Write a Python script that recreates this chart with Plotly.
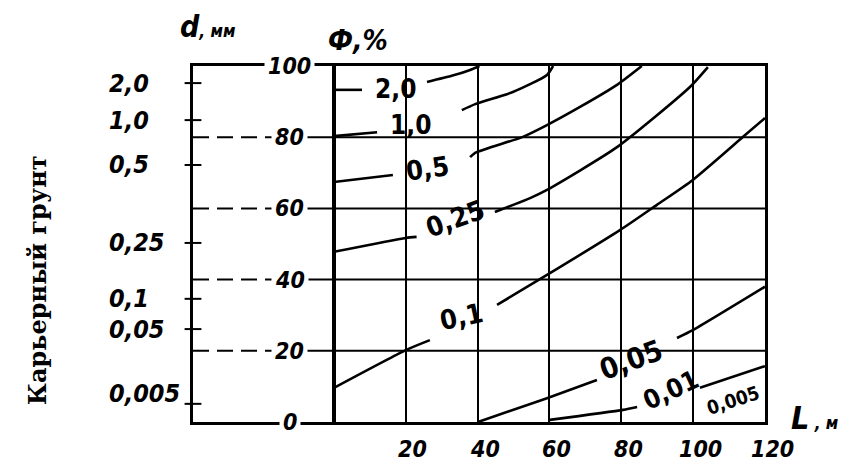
import plotly.graph_objects as go

# ---------------- data ----------------
L_TICKS = [20, 40, 60, 80, 100, 120]
L_TICK_TEXT = ["20", "40", "60", "80", "100", "120"]
PHI_TICKS = [0, 20, 40, 60, 80, 100]
PHI_TICK_TEXT = ["0", "20", "40", "60", "80", "100"]

D_LABELS = ["2,0", "1,0", "0,5", "0,25", "0,1", "0,05", "0,005"]
D_POS = [95.2, 84.8, 72.2, 50.3, 34.6, 26.1, 5.1]

c20_L = [0, 7.8, None, 25.9, 33.0, 37.9, 40.5]
c20_F = [93.3, 93.3, None, 95.5, 97.3, 98.9, 100]
c10_L = [0, 12.0, None, 35.6, 39.3, 49.8, 59.3, 61.0]
c10_F = [80.3, 81.4, None, 87.6, 89.3, 92.7, 97.5, 100]
c05_L = [0, 16.4, None, 37.9, 39.3, 52.6, 59.3, 68.5, 78.8, 85.7]
c05_F = [67.4, 69.4, None, 74.4, 75.6, 80.1, 83.4, 88.5, 94.7, 100]
c025_L = [0, 20, 23.0, None, 44.8, 54.6, 59.3, 78.8, 99.1, 104.1]
c025_F = [47.8, 51.7, 52.0, None, 59.0, 62.9, 65.2, 77.2, 94.1, 99.7]
c01_L = [0, 20, 26.7, None, 45.4, 59.3, 79.6, 89.9, 99.9, 113.9, 120]
c01_F = [9.6, 20.2, 23.0, None, 32.9, 41.3, 53.9, 61.0, 68.0, 80.1, 85.4]
c005_L = [40.1, 59.3, 73.2, None, 95.5, 99.9, 120]
c005_F = [0, 6.7, 11.8, None, 23.6, 25.8, 38.0]
c001_L = [60.1, 80.5, 84.4, None, 101.9, 120]
c001_F = [0.6, 3.4, 4.2, None, 9.6, 15.7]

CURVE_LABELS = ["2,0", "1,0", "0,5", "0,25", "0,1", "0,05", "0,01", "0,005"]
CURVE_LABEL_L = [17.0, 21.4, 25.9, 33.7, 35.6, 82.7, 93.8, 111.1]
CURVE_LABEL_F = [93.5, 83.4, 71.3, 57.3, 29.5, 17.4, 9.0, 6.2]

# ---------------- style ----------------
L_MIN = -39.25          # left edge of the auxiliary d-scale box
PHI_LABEL_L = -12.3     # where the Ф tick labels sit
LABEL_ANGLES = [0, 0, -8, -20, -12, -20, -25, -18]
LABEL_SIZES = [26, 26, 27, 27, 27, 29, 26, 19]

HAND = "DejaVu Sans Condensed, DejaVu Sans, sans-serif"
BI = dict(family=HAND, color="black", weight="bold", style="italic")
B = dict(family=HAND, color="black", weight="bold")

fig = go.Figure()

# horizontal grid: dashed inside the d box, solid in the main field
dash_x, dash_y, sol_x, sol_y = [], [], [], []
for v in PHI_TICKS[1:-1]:
    dash_x += [L_MIN, PHI_LABEL_L, None]
    dash_y += [v, v, None]
    sol_x += [PHI_LABEL_L, 120, None]
    sol_y += [v, v, None]
fig.add_trace(go.Scatter(x=dash_x, y=dash_y, mode="lines",
                         line=dict(color="black", width=2, dash="16px,8px"),
                         hoverinfo="skip"))
fig.add_trace(go.Scatter(x=sol_x, y=sol_y, mode="lines",
                         line=dict(color="black", width=2), hoverinfo="skip"))

# curves
for Ls, Fs in [(c20_L, c20_F), (c10_L, c10_F), (c05_L, c05_F), (c025_L, c025_F),
               (c01_L, c01_F), (c005_L, c005_F), (c001_L, c001_F)]:
    fig.add_trace(go.Scatter(x=Ls, y=Fs, mode="lines", connectgaps=False,
                             line=dict(color="black", width=2.6, shape="spline",
                                       smoothing=0.6),
                             hoverinfo="skip"))

# d-scale tick marks (crossing the left axis)
fig.add_trace(go.Scatter(x=[L_MIN] * len(D_POS), y=D_POS, mode="markers",
                         marker=dict(symbol="line-ew", size=12,
                                     line=dict(width=2, color="black")),
                         cliponaxis=False, hoverinfo="skip"))

ann = []
# Ф tick labels (white background breaks the lines)
for v, t in zip(PHI_TICKS, PHI_TICK_TEXT):
    ann.append(dict(x=PHI_LABEL_L, y=v, xref="x", yref="y", text=t, showarrow=False,
                    xanchor="center", yanchor="middle",
                    bgcolor="white", borderpad=3, font=dict(size=23, **BI)))
# L tick labels
for v, t in zip(L_TICKS, L_TICK_TEXT):
    ann.append(dict(x=v, y=-0.076, xref="x", yref="paper", text=t, showarrow=False,
                    xanchor="center", yanchor="middle",
                    xshift=7, font=dict(size=23, **BI)))
# d labels
for v, t in zip(D_POS, D_LABELS):
    ann.append(dict(x=-0.1503, y=v, xref="paper", yref="y", text=t, showarrow=False,
                    xanchor="left", yanchor="middle",
                    yshift=10 if t == "0,005" else 0,
                    font=dict(size=25, **BI)))
# curve labels
for t, lx, fy, a, s in zip(CURVE_LABELS, CURVE_LABEL_L, CURVE_LABEL_F,
                           LABEL_ANGLES, LABEL_SIZES):
    ann.append(dict(x=lx, y=fy, xref="x", yref="y", text=t, showarrow=False,
                    xanchor="center", yanchor="middle",
                    textangle=a, font=dict(size=s, **B)))
# axis titles
ann.append(dict(x=0.0245, y=1.112, xref="paper", yref="paper", showarrow=False,
                xanchor="center", yanchor="middle",
                text="<span style='font-size:30px'>d</span>, мм",
                font=dict(size=17, **BI)))
ann.append(dict(x=0.2885, y=1.073, xref="paper", yref="paper", showarrow=False,
                xanchor="center", yanchor="middle",
                text="Ф,%", font=dict(size=28, **BI)))
ann.append(dict(x=1.0857, y=0.012, xref="paper", yref="paper", showarrow=False,
                xanchor="center", yanchor="middle",
                text="<span style='font-size:32px'>L</span> , м",
                font=dict(size=17, **BI)))
ann.append(dict(x=-0.271, y=0.399, xref="paper", yref="paper", showarrow=False,
                xanchor="center", yanchor="middle",
                text="Карьерный грунт", textangle=-90,
                font=dict(size=24, family="DejaVu Serif, serif", color="black",
                          weight="bold")))

# page body adds an 8px margin, so the figure is sized 8px smaller
fig.update_layout(
    width=855, height=462,
    margin=dict(l=185, r=98, t=58, b=48),
    paper_bgcolor="white", plot_bgcolor="white",
    showlegend=False,
    annotations=ann,
    xaxis=dict(range=[L_MIN, 120], tickvals=L_TICKS, showticklabels=False, ticks="",
               showgrid=True, gridcolor="black", gridwidth=2,
               zeroline=True, zerolinecolor="black", zerolinewidth=3.5,
               showline=True, mirror=True, linecolor="black", linewidth=2.5),
    yaxis=dict(range=[0, 100], tickvals=D_POS, showticklabels=False, ticks="",
               showgrid=False, zeroline=False,
               showline=True, mirror=True, linecolor="black", linewidth=2.5),
)

fig.write_html("out.html")
